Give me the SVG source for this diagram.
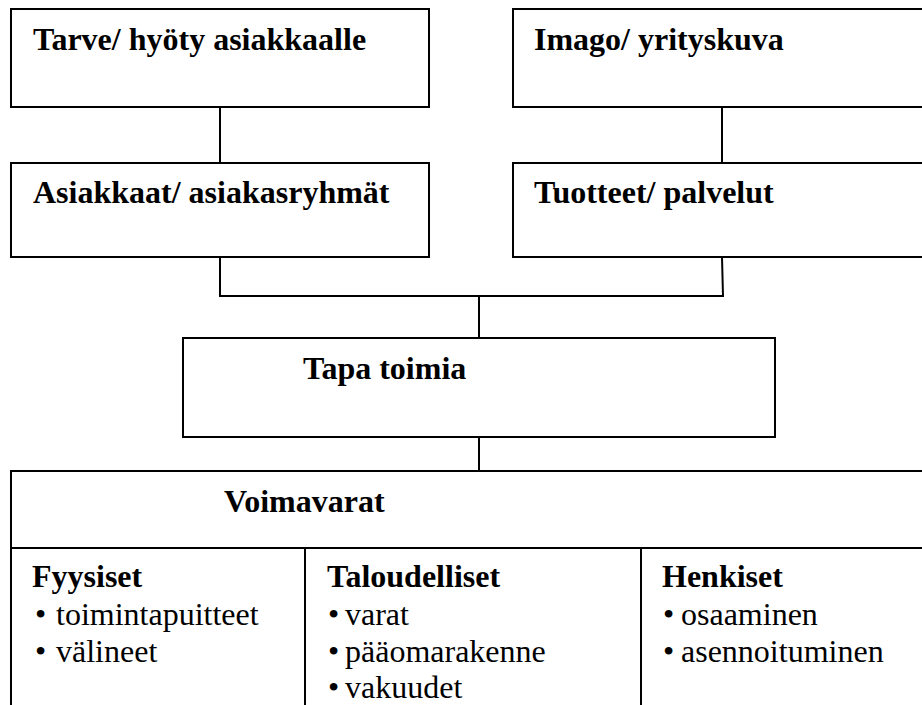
<svg xmlns="http://www.w3.org/2000/svg" width="922" height="705" viewBox="0 0 922 705">
  <style>
    .box { fill: #ffffff; stroke: #000000; stroke-width: 2; }
    .conn { fill: none; stroke: #000000; stroke-width: 2; }
    .title { font-family: 'Liberation Serif', 'DejaVu Serif', serif; font-weight: bold; font-size: 32px; fill: #000000; }
    .item { font-family: 'Liberation Serif', 'DejaVu Serif', serif; font-size: 32px; fill: #000000; }
  </style>
  <rect width="922" height="705" fill="#ffffff"/>

  <g id="connectors">
    <line class="conn" x1="220" y1="107" x2="220" y2="163"/>
    <line class="conn" x1="722" y1="107" x2="722" y2="163"/>
    <polyline class="conn" points="220,257 220,296 723,296 722,257"/>
    <line class="conn" x1="479" y1="296" x2="479" y2="338"/>
    <line class="conn" x1="479" y1="437" x2="479" y2="471"/>
  </g>

  <g id="tarve">
    <rect class="box" x="11" y="9" width="418" height="98"/>
    <text class="title" x="33" y="50">Tarve/ hyöty asiakkaalle</text>
  </g>

  <g id="imago">
    <rect class="box" x="513" y="9" width="430" height="98"/>
    <text class="title" x="534" y="50">Imago/ yrityskuva</text>
  </g>

  <g id="asiakkaat">
    <rect class="box" x="11" y="163" width="418" height="94"/>
    <text class="title" x="33" y="203">Asiakkaat/ asiakasryhmät</text>
  </g>

  <g id="tuotteet">
    <rect class="box" x="513" y="163" width="430" height="94"/>
    <text class="title" x="534" y="203">Tuotteet/ palvelut</text>
  </g>

  <g id="tapa-toimia">
    <rect class="box" x="183" y="338" width="592" height="99"/>
    <text class="title" x="303" y="379">Tapa toimia</text>
  </g>

  <g id="voimavarat">
    <rect class="box" x="11" y="471" width="940" height="260"/>
    <line class="conn" x1="11" y1="548" x2="930" y2="548"/>
    <line class="conn" x1="305" y1="548" x2="305" y2="710"/>
    <line class="conn" x1="641" y1="548" x2="641" y2="710"/>
    <text class="title" x="224" y="512">Voimavarat</text>

    <text class="title" x="32" y="587">Fyysiset</text>
    <text class="item" x="35" y="625">•</text>
    <text class="item" x="56" y="625">toimintapuitteet</text>
    <text class="item" x="35" y="662">•</text>
    <text class="item" x="56" y="662">välineet</text>

    <text class="title" x="327" y="587">Taloudelliset</text>
    <text class="item" x="328" y="625">•</text>
    <text class="item" x="345" y="625">varat</text>
    <text class="item" x="328" y="662">•</text>
    <text class="item" x="345" y="662">pääomarakenne</text>
    <text class="item" x="328" y="698">•</text>
    <text class="item" x="345" y="698">vakuudet</text>

    <text class="title" x="662" y="587">Henkiset</text>
    <text class="item" x="663" y="625">•</text>
    <text class="item" x="681" y="625">osaaminen</text>
    <text class="item" x="663" y="662">•</text>
    <text class="item" x="681" y="662">asennoituminen</text>
  </g>
</svg>
